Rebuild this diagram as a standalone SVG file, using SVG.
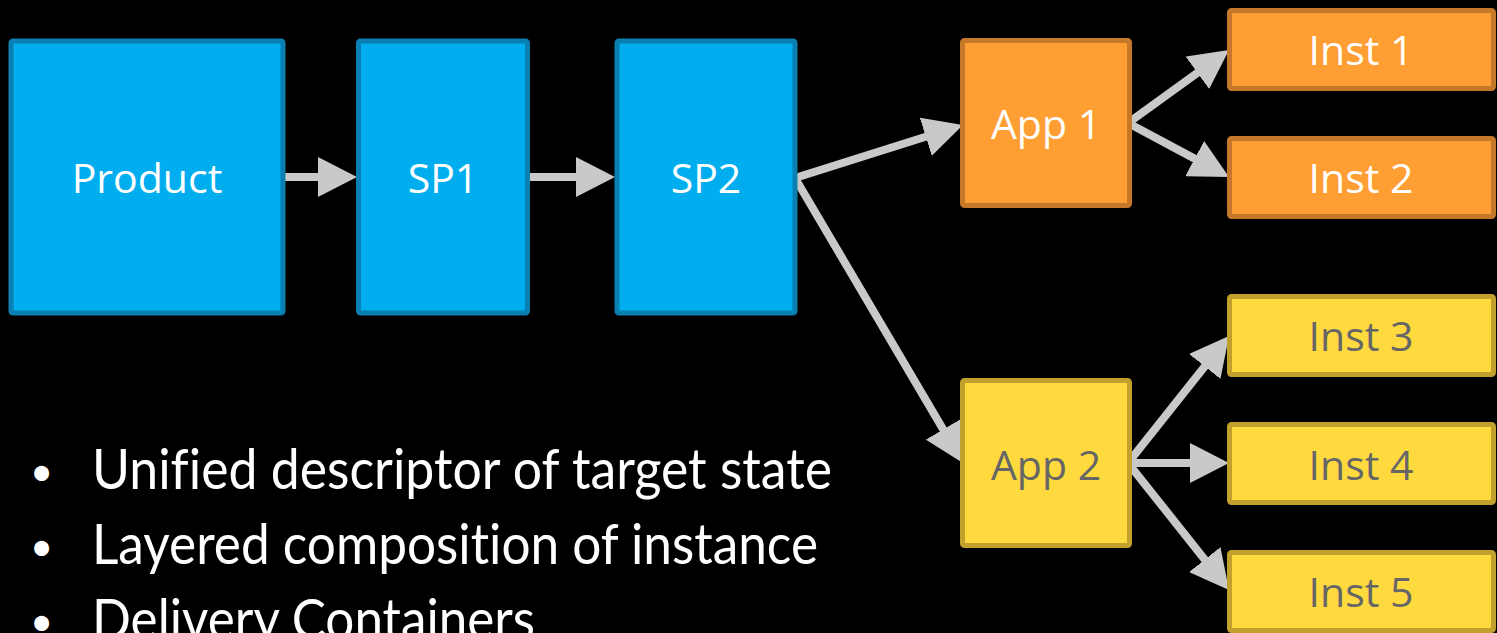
<svg xmlns="http://www.w3.org/2000/svg" width="1497" height="633" viewBox="0 0 1497 633">
  <style>
    .box { stroke-width: 5; }
    .blue { fill: #00AEEF; stroke: #0A7FB2; }
    .orange { fill: #FF9E33; stroke: #C6782A; }
    .yellow { fill: #FFDA3E; stroke: #C1A02C; }
    .label { font-family: "Open Sans", "Liberation Sans", sans-serif; font-size: 41px; text-anchor: middle; }
    .light { fill: #FFFFFF; }
    .dark { fill: #666666; }
    .conn { stroke: #C9C9C9; stroke-width: 8; fill: none; stroke-linecap: round; marker-end: url(#head); }
    .bullet { font-family: "Lato", "Open Sans", sans-serif; font-size: 56px; fill: #FFFFFF; font-variant-ligatures: none; }
    .dot { font-family: "Lato", "Open Sans", sans-serif; font-size: 40px; fill: #FFFFFF; }
  </style>
  <defs>
    <marker id="head" markerUnits="userSpaceOnUse" markerWidth="40" markerHeight="40" refX="19" refY="20" orient="auto" viewBox="0 0 40 40">
      <path d="M0,0 L39,20 L0,40 Z" fill="#C9C9C9"/>
    </marker>
  </defs>
  <rect x="0" y="0" width="1497" height="633" fill="#000000"/>

  <g id="connectors">
    <line class="conn" x1="285" y1="177" x2="337" y2="177"/>
    <line class="conn" x1="529" y1="177" x2="595" y2="177"/>
    <line class="conn" x1="795" y1="178" x2="943.9" y2="131"/>
    <line class="conn" x1="795" y1="178" x2="952.8" y2="445.8"/>
    <line class="conn" x1="1128" y1="123" x2="1212.8" y2="61.7"/>
    <line class="conn" x1="1128" y1="123" x2="1211.4" y2="167.6"/>
    <line class="conn" x1="1128" y1="463" x2="1216.6" y2="351.6"/>
    <line class="conn" x1="1128" y1="463" x2="1209" y2="463"/>
    <line class="conn" x1="1128" y1="463" x2="1216.6" y2="574.4"/>
  </g>

  <g id="product">
    <rect class="box blue" x="11" y="41" width="272" height="272" rx="2"/>
    <text class="label light" x="147" y="193">Product</text>
  </g>
  <g id="sp1">
    <rect class="box blue" x="358.5" y="41" width="169" height="272" rx="2"/>
    <text class="label light" x="443" y="193">SP1</text>
  </g>
  <g id="sp2">
    <rect class="box blue" x="617" y="41" width="178" height="272" rx="2"/>
    <text class="label light" x="706" y="193">SP2</text>
  </g>
  <g id="app1">
    <rect class="box orange" x="962.5" y="40.5" width="167" height="165" rx="2"/>
    <text class="label light" x="1046" y="139">App 1</text>
  </g>
  <g id="app2">
    <rect class="box yellow" x="962.5" y="380.5" width="167" height="165" rx="2"/>
    <text class="label dark" x="1046" y="480">App 2</text>
  </g>
  <g id="inst1">
    <rect class="box orange" x="1229.5" y="10.5" width="264" height="78" rx="2"/>
    <text class="label light" x="1361" y="65">Inst 1</text>
  </g>
  <g id="inst2">
    <rect class="box orange" x="1229.5" y="138.5" width="264" height="78" rx="2"/>
    <text class="label light" x="1361" y="193">Inst 2</text>
  </g>
  <g id="inst3">
    <rect class="box yellow" x="1229.5" y="296.5" width="264" height="78" rx="2"/>
    <text class="label dark" x="1361" y="351">Inst 3</text>
  </g>
  <g id="inst4">
    <rect class="box yellow" x="1229.5" y="424.5" width="264" height="78" rx="2"/>
    <text class="label dark" x="1361" y="480">Inst 4</text>
  </g>
  <g id="inst5">
    <rect class="box yellow" x="1229.5" y="552.5" width="264" height="78" rx="2"/>
    <text class="label dark" x="1361" y="607">Inst 5</text>
  </g>

  <g id="bullets">
    <text class="dot" x="30" y="486">•</text>
    <text class="bullet" x="92" y="489" textLength="740" lengthAdjust="spacingAndGlyphs">Unified descriptor of target state</text>
    <text class="dot" x="30" y="561">•</text>
    <text class="bullet" x="92" y="564" textLength="726" lengthAdjust="spacingAndGlyphs">Layered composition of instance</text>
    <text class="dot" x="30" y="636">•</text>
    <text class="bullet" x="92" y="639" textLength="443" lengthAdjust="spacingAndGlyphs">Delivery Containers</text>
  </g>
</svg>
